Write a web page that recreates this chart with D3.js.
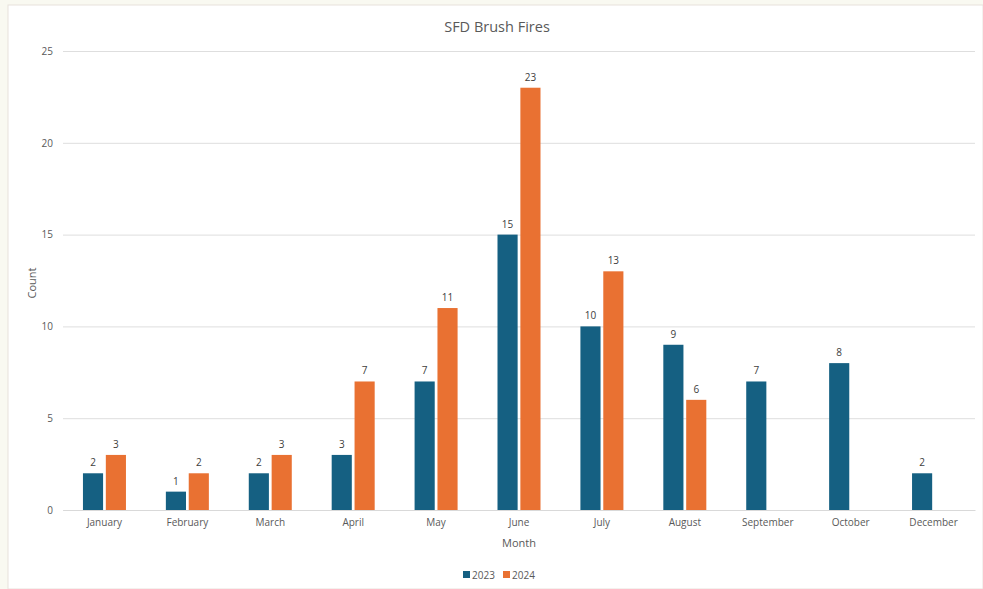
<!DOCTYPE html>
<html><head><meta charset="utf-8">
<script src="https://cdn.jsdelivr.net/npm/d3@7"></script>
<style>
html,body{margin:0;padding:0;background:#f9f9f1;}
svg{display:block;}
text{font-family:"Open Sans","Liberation Sans",sans-serif;}
</style></head>
<body>
<script>
const months = ["January","February","March","April","May","June","July","August","September","October","December"];
const series = ["2023","2024"];
const values2023 = [2,1,2,3,7,15,10,9,7,8,2];
const values2024 = [3,2,3,7,11,23,13,6,null,null,null];
const yTicks = [0,5,10,15,20,25];
const colors = {"2023":"#156082","2024":"#E97132"};

(function(){
const W=983,H=589;
const svg=d3.select("body").append("svg").attr("width",W).attr("height",H);
svg.append("rect").attr("x",8).attr("y",5).attr("width",W-8).attr("height",H-5)
  .attr("fill","#ffffff").attr("stroke","#e8e2dc").attr("stroke-width",1);

const pL=63,pR=975,pT=51,pB=510;
const x0=d3.scaleBand().domain(months).range([pL,pR]).padding(0);
const gw=43;
const x1=d3.scaleBand().domain(series).range([x0.bandwidth()/2-gw/2,x0.bandwidth()/2+gw/2]).paddingInner(0.12);
const y=d3.scaleLinear().domain([0,25]).range([pB,pT]);

const grid=svg.append("g").attr("transform",`translate(${pL},0)`)
  .call(d3.axisLeft(y).tickValues(yTicks).tickSize(-(pR-pL)).tickFormat(""));
grid.select(".domain").remove();
grid.selectAll("line").attr("stroke","#dedede").attr("stroke-width",1);

const ya=svg.append("g").attr("transform",`translate(${pL},0)`)
  .call(d3.axisLeft(y).tickValues(yTicks).tickSize(0).tickPadding(10));
ya.select(".domain").remove();
ya.selectAll("text").attr("font-size",10).attr("fill","#595959");

const xa=svg.append("g").attr("transform",`translate(0,${pB})`)
  .call(d3.axisBottom(x0).tickSize(0).tickPadding(9));
xa.select(".domain").attr("stroke","#d9d9d9");
xa.selectAll("text").attr("font-size",10).attr("fill","#595959");

const data=months.map((m,i)=>({month:m,vals:[{s:"2023",v:values2023[i]},{s:"2024",v:values2024[i]}]}));
const g=svg.selectAll("g.grp").data(data).enter().append("g").attr("class","grp")
  .attr("transform",d=>`translate(${x0(d.month)},0)`);
const bars=g.selectAll("g.b").data(d=>d.vals.filter(e=>e.v!=null)).enter().append("g").attr("class","b");
bars.append("rect").attr("x",d=>x1(d.s)).attr("width",x1.bandwidth())
  .attr("y",d=>y(d.v)).attr("height",d=>y(0)-y(d.v)).attr("fill",d=>colors[d.s]);
bars.append("text").attr("x",d=>x1(d.s)+x1.bandwidth()/2).attr("y",d=>y(d.v)-7)
  .attr("text-anchor","middle").attr("font-size",10).attr("fill","#404040").text(d=>d.v);

svg.append("text").attr("x",497).attr("y",32).attr("text-anchor","middle")
  .attr("font-size",14.5).attr("fill","#595959").text("SFD Brush Fires");
svg.append("text").attr("transform","translate(36,283) rotate(-90)").attr("text-anchor","middle")
  .attr("font-size",11).attr("fill","#595959").text("Count");
svg.append("text").attr("x",519).attr("y",547).attr("text-anchor","middle")
  .attr("font-size",11).attr("fill","#595959").text("Month");

const lg=svg.append("g").attr("transform","translate(463,575)");
series.forEach((s,i)=>{
  const gx=i*40;
  lg.append("rect").attr("x",gx).attr("y",-4).attr("width",7).attr("height",7).attr("fill",colors[s]);
  lg.append("text").attr("x",gx+9).attr("y",3.5).attr("font-size",10).attr("fill","#595959").text(s);
});
})();
</script>
</body></html>
